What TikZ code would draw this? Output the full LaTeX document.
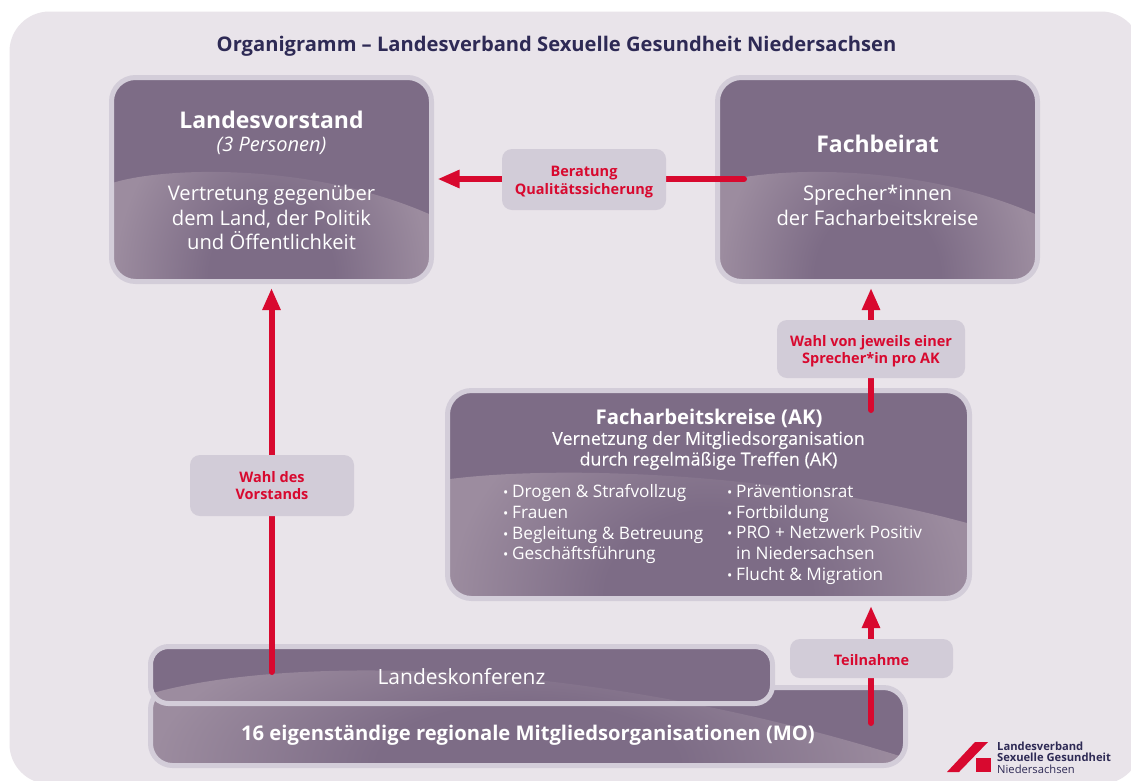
\documentclass[tikz,border=0pt]{standalone}
\usepackage{fontspec}
\setmainfont{Open Sans}
\newfontfamily\semifont[FakeBold=0.3]{Open Sans}
\usetikzlibrary{arrows.meta}
\definecolor{pagebg}{HTML}{E9E4EA}
\definecolor{panelbase}{HTML}{7D6C86}
\definecolor{panellight}{HTML}{9C8C9F}
\definecolor{panelborder}{HTML}{D3CDD9}
\definecolor{labelbg}{HTML}{D2CCD8}
\definecolor{accent}{HTML}{D8092F}
\definecolor{titleink}{HTML}{2E2A55}
\pgfdeclareradialshading{panelglow}{\pgfpoint{0bp}{0bp}}{color(0bp)=(panelbase); color(10bp)=(panelbase); color(25bp)=(panellight); color(50bp)=(panellight)}
\tikzset{
  panelcore/.style={rectangle,inner sep=0pt,outer sep=0pt,fill=panelbase},
  paneltext/.style={text=white,align=center,inner sep=0pt},
  labelbox/.style={rectangle,rounded corners=10pt,fill=labelbg,text=accent,align=center,inner sep=0pt,
    font=\fontsize{14.5}{17.8}\bfseries\selectfont},
  flow/.style={draw=accent,line width=6pt,line cap=round,-{Triangle[length=22pt,width=17pt]}},
}
% name, x1,y1,x2,y2 (stroke centre), radius, wave path, glow rectangle
\newcommand{\wavepanel}[8]{%
  \node[panelcore,rounded corners=#6,minimum width=#4-#2,minimum height=#5-#3] (#1) at ({(#2+#4)/2},{(#3+#5)/2}) {};
  \begin{scope}
    \clip[rounded corners=#6] (#2,#3) rectangle (#4,#5);
    \clip #7;
    \shade[shading=panelglow] #8;
  \end{scope}
  \draw[panelborder,line width=5pt,rounded corners=#6] (#2,#3) rectangle (#4,#5);
}
\begin{document}
\begin{tikzpicture}[x=1pt,y=-1pt]
\useasboundingbox (0,0) rectangle (1131,780);
\fill[white] (0,0) rectangle (1131,780);
\fill[pagebg,rounded corners=40pt] (9.5,11.5) rectangle (1141,784);

\node[text=titleink,font=\fontsize{20.15}{24}\bfseries\selectfont,inner sep=0pt] (title) at (556.5,46) {Organigramm – Landesverband Sexuelle Gesundheit Niedersachsen};

% panels
\wavepanel{mo}{150.5}{687.5}{905.5}{765.5}{22pt}{(153,693) .. controls (270,660) and (560,650) .. (903,757) -- (903,770) -- (153,770) -- cycle}{(153,613) rectangle (903,913)}
\wavepanel{lk}{150.5}{646.5}{772.5}{703.5}{18pt}{(153,693) .. controls (270,660) and (560,650) .. (903,757) -- (903,770) -- (153,770) -- cycle}{(153,613) rectangle (903,913)}
\wavepanel{lv}{111.5}{77.5}{431.5}{281.5}{24pt}{(114,182.5) .. controls (165,167) and (310,162) .. (429,214) -- (429,282) -- (114,282) -- cycle}{(114,93) rectangle (429,465)}
\wavepanel{fb}{717.5}{77.5}{1037.5}{281.5}{24pt}{(720,182.5) .. controls (771,167) and (916,162) .. (1035,214) -- (1035,282) -- (720,282) -- cycle}{(720,93) rectangle (1035,465)}
\wavepanel{ak}{447.5}{390.5}{969.5}{598.5}{24pt}{(450,479) .. controls (560,465) and (780,472) .. (967,523) -- (967,600) -- (450,600) -- cycle}{(450,384) rectangle (967,808)}

% free ends of the connectors
\coordinate (lkout) at (271.5,672);
\coordinate (fbout) at (744,179);
\coordinate (akout) at (871,410);
\coordinate (moout) at (871,723);

% connectors
\draw[flow,shorten >=6pt] (fbout) -- (lv.east |- fbout);
\draw[flow,shorten >=6.5pt] (lkout) -- (lkout |- lv.south);
\draw[flow,shorten >=6.5pt] (akout) -- (akout |- fb.south);
\draw[flow,shorten >=7.5pt] (moout) -- (moout |- ak.south);

% labels
\node[labelbox,minimum width=164pt,minimum height=61pt] (beratung) at (584,179.5) {\rule{0pt}{15.5pt}Beratung\\Qualitätssicherung};
\node[labelbox,minimum width=164pt,minimum height=61pt] (wahlv) at (272,485.5) {Wahl des\\Vorstands};
\node[labelbox,minimum width=188pt,minimum height=58pt] (wahlak) at (871,349) {\rule{0pt}{15.5pt}Wahl von jeweils einer\\Sprecher*in pro AK};
\node[labelbox,minimum width=163pt,minimum height=39pt] (teil) at (871.5,658.5) {\rule{0pt}{14pt}Teilnahme};

% panel texts
\node[paneltext,font=\fontsize{23}{26}\bfseries\selectfont] (lvh) at (271.5,120) {Landesvorstand};
\node[paneltext,font=\fontsize{20}{22}\itshape\selectfont] (lvs) at (271.5,146) {(3 Personen)};
\node[paneltext,font=\fontsize{20.2}{24.5}\selectfont] (lvb) at (271.5,217.5) {Vertretung gegenüber\\dem Land, der Politik\\und Öffentlichkeit};
\node[paneltext,font=\fontsize{23}{26}\bfseries\selectfont] (fbh) at (877.5,144) {Fachbeirat};
\node[paneltext,font=\fontsize{20.2}{24.5}\selectfont] (fbb) at (877.5,205.5) {Sprecher*innen\\der Facharbeitskreise};
\node[paneltext,font=\fontsize{20.3}{22}\bfseries\selectfont] (akh) at (709,418.5) {Facharbeitskreise (AK)};
\node[paneltext,font=\fontsize{17.9}{20.7}\semifont\selectfont] (akb) at (708.5,450.5) {Vernetzung der Mitgliedsorganisation\\durch regelmäßige Treffen (AK)};
\newcommand{\itm}{\makebox[9pt][l]{\fontsize{14}{14}\selectfont•}}
\node[paneltext,align=left,anchor=north west,font=\fontsize{17.2}{20.7}\selectfont] (akl) at (503,484.5) {\itm Drogen \& Strafvollzug\\\itm Frauen\\\itm Begleitung \& Betreuung\\\itm Geschäftsführung};
\node[paneltext,align=left,anchor=north west,font=\fontsize{17.2}{20.7}\selectfont] (akr) at (727,484.5) {\itm Präventionsrat\\\itm Fortbildung\\\itm PRO + Netzwerk Positiv\\\hspace*{9pt}in Niedersachsen\\\itm Flucht \& Migration};
\node[paneltext,font=\fontsize{21}{22}\selectfont] (lkt) at (461.5,676.5) {Landeskonferenz};
\node[paneltext,font=\fontsize{20.2}{23}\bfseries\selectfont] (mot) at (528,735.5) {16 eigenständige regionale Mitgliedsorganisationen (MO)};

% logo
\fill[accent] (947,772) -- (975,742) -- (988,742) -- (959,772) -- cycle;
\fill[accent] (976,758) rectangle (991,772);
\node[anchor=west,inner sep=0pt,text=titleink,align=left,font=\fontsize{11.2}{11.6}\selectfont] (logotext) at (997,757.5) {\textbf{Landesverband}\\\textbf{Sexuelle Gesundheit}\\Niedersachsen};
\end{tikzpicture}
\end{document}
